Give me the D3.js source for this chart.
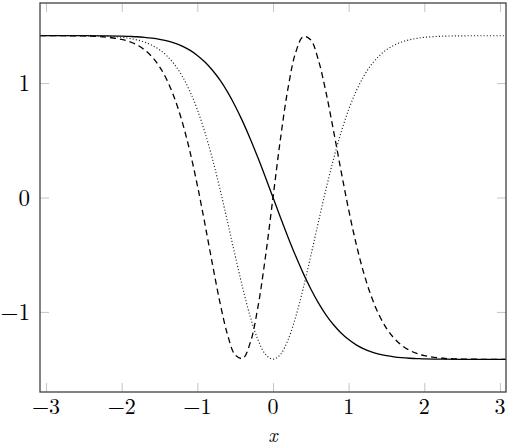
<!DOCTYPE html>
<html>
<head>
<meta charset="utf-8">
<script src="https://cdn.jsdelivr.net/npm/d3@7"></script>
<style>
  html, body { margin: 0; padding: 0; background: #fff; }
  svg { display: block; }
  text { font-family: "Latin Modern Roman", "Liberation Serif", "DejaVu Serif", serif; fill: #000; }
</style>
</head>
<body>
<svg id="chart" width="510" height="447"></svg>
<script>
// ---- data ----
const xValues = [-3.08, -3, -2.75, -2.5, -2.25, -2, -1.9, -1.8, -1.7, -1.6, -1.5, -1.4, -1.3, -1.2, -1.1, -1, -0.9, -0.8, -0.7, -0.6, -0.5, -0.4, -0.3, -0.2, -0.1, 0,
                 0.1, 0.2, 0.3, 0.4, 0.5, 0.6, 0.7, 0.8, 0.9, 1, 1.1, 1.2, 1.3, 1.4, 1.5, 1.6, 1.7, 1.8, 1.9, 2, 2.25, 2.5, 2.75, 3, 3.08];

const solidValues = [1.414, 1.414, 1.414, 1.414, 1.413, 1.411, 1.408, 1.405, 1.400, 1.393, 1.383, 1.369, 1.349, 1.323, 1.288, 1.242, 1.184, 1.112, 1.025, 0.921, 0.800, 0.663, 0.512, 0.349, 0.177, 0,
                     -0.177, -0.349, -0.512, -0.663, -0.800, -0.921, -1.025, -1.112, -1.184, -1.242, -1.288, -1.323, -1.349, -1.369, -1.383, -1.393, -1.400, -1.405, -1.408, -1.411, -1.413, -1.414, -1.414, -1.414, -1.414];

const dottedValues = [1.414, 1.414, 1.414, 1.413, 1.410, 1.400, 1.391, 1.378, 1.359, 1.331, 1.291, 1.236, 1.161, 1.060, 0.931, 0.768, 0.569, 0.336, 0.071, -0.215, -0.509, -0.792, -1.044, -1.242, -1.370, -1.414,
                      -1.370, -1.242, -1.044, -0.792, -0.509, -0.215, 0.071, 0.336, 0.569, 0.768, 0.931, 1.060, 1.161, 1.236, 1.291, 1.331, 1.359, 1.378, 1.391, 1.400, 1.410, 1.413, 1.414, 1.414, 1.414];

const dashedValues = [1.414, 1.414, 1.414, 1.412, 1.405, 1.382, 1.363, 1.334, 1.291, 1.230, 1.143, 1.024, 0.865, 0.661, 0.407, 0.107, -0.231, -0.584, -0.921, -1.201, -1.376, -1.406, -1.268, -0.961, -0.519, 0,
                      0.519, 0.961, 1.268, 1.406, 1.376, 1.201, 0.921, 0.584, 0.231, -0.107, -0.407, -0.661, -0.865, -1.024, -1.143, -1.230, -1.291, -1.334, -1.363, -1.382, -1.405, -1.412, -1.414, -1.414, -1.414];

const xTicks = [-3, -2, -1, 0, 1, 2, 3];
const yTicks = [-1, 0, 1];
const xLabel = "x";

// ---- layout ----
const svg = d3.select("#chart");
const L = 40, R = 506, T = 3, B = 392;
const x = d3.scaleLinear().domain([-3.08, 3.08]).range([L, R]);
const y = d3.scaleLinear().domain([-1.7, 1.7]).range([B, T]);

const fmt = d => (d < 0 ? "\u2212" + Math.abs(d) : String(d));
const tickLen = 9;
const tickColor = "#c4c4c4";

// tick marks (inside, on all four sides)
const gx = svg.append("g");
gx.append("g").attr("transform", `translate(0,${B})`)
  .call(d3.axisBottom(x).tickValues(xTicks).tickSize(-tickLen).tickFormat(""))
  .call(g => g.select(".domain").remove());
gx.append("g").attr("transform", `translate(0,${T})`)
  .call(d3.axisTop(x).tickValues(xTicks).tickSize(-tickLen).tickFormat(""))
  .call(g => g.select(".domain").remove());
gx.append("g").attr("transform", `translate(${L},0)`)
  .call(d3.axisLeft(y).tickValues(yTicks).tickSize(-tickLen).tickFormat(""))
  .call(g => g.select(".domain").remove());
gx.append("g").attr("transform", `translate(${R},0)`)
  .call(d3.axisRight(y).tickValues(yTicks).tickSize(-tickLen).tickFormat(""))
  .call(g => g.select(".domain").remove());
gx.selectAll(".tick line").attr("stroke", tickColor).attr("stroke-width", 1);

// tick labels
svg.append("g").selectAll("text").data(xTicks).join("text")
  .attr("x", d => x(d)).attr("y", 414)
  .attr("text-anchor", "middle")
  .attr("font-size", 22)
  .text(fmt);
svg.append("g").selectAll("text").data(yTicks).join("text")
  .attr("x", 30).attr("y", d => y(d) + 8)
  .attr("text-anchor", "end")
  .attr("font-size", 23)
  .text(fmt);

// axis label
svg.append("text").attr("x", x(0)).attr("y", 441.5)
  .attr("text-anchor", "middle").attr("font-size", 20).attr("font-style", "italic")
  .text(xLabel);

// curves
svg.append("clipPath").attr("id", "clip")
  .append("rect").attr("x", L).attr("y", T).attr("width", R - L).attr("height", B - T);

const series = [
  { values: solidValues, dash: null, color: "#000", width: 1.3 },
  { values: dashedValues, dash: "6,4", color: "#000", width: 1.3 },
  { values: dottedValues, dash: "1.1,2.1", color: "#222", width: 1.15 }
];
const line = d3.line()
  .x((d, i) => x(xValues[i]))
  .y(d => y(d))
  .curve(d3.curveCatmullRom.alpha(0.5));

svg.append("g").attr("clip-path", "url(#clip)")
  .selectAll("path").data(series).join("path")
  .attr("d", s => line(s.values))
  .attr("fill", "none")
  .attr("stroke", s => s.color)
  .attr("stroke-width", s => s.width)
  .attr("stroke-dasharray", s => s.dash);

// frame
svg.append("rect").attr("x", L).attr("y", T).attr("width", R - L).attr("height", B - T)
  .attr("fill", "none").attr("stroke", "#404040").attr("stroke-width", 1.3);
</script>
</body>
</html>
